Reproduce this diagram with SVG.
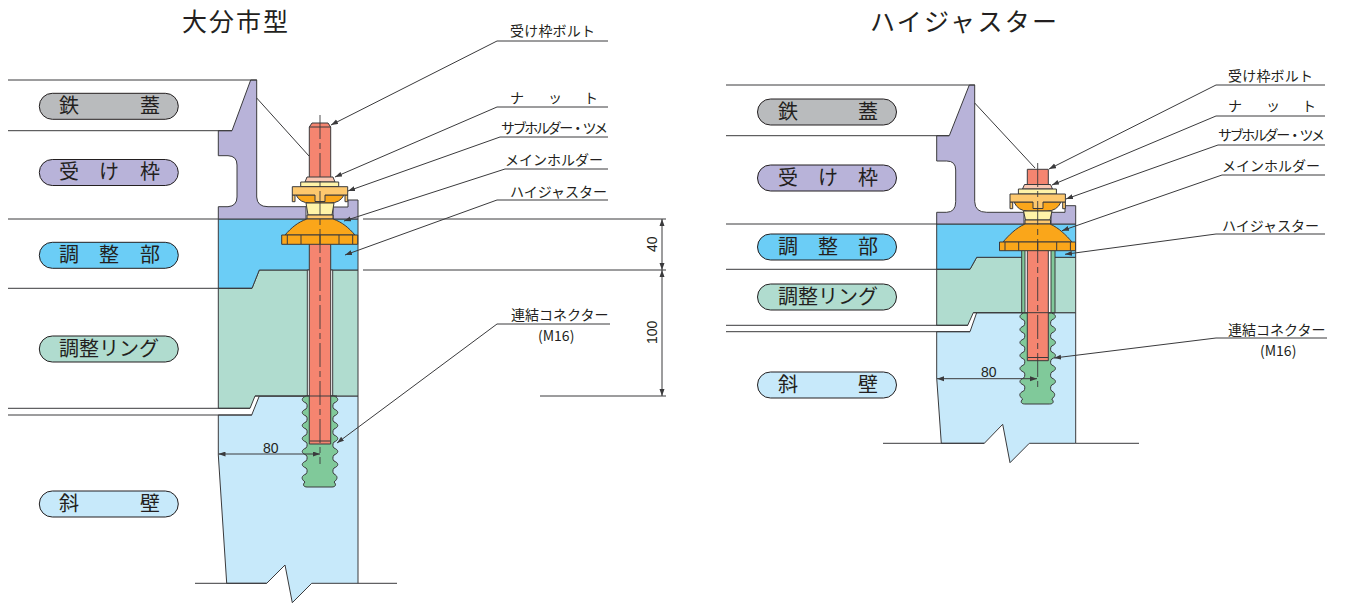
<svg xmlns="http://www.w3.org/2000/svg" xmlns:xlink="http://www.w3.org/1999/xlink" width="1345" height="603" viewBox="0 0 1345 603">
<style>
text{font-family:"Noto Sans CJK JP","Liberation Sans",sans-serif;fill:#231f20}
.title{font-size:25px}
.pl{font-size:20px}
.ld{font-size:14px}
.dim{font-family:"Liberation Sans",Arial,sans-serif;font-size:14px}
.s{stroke:#3a3a3c;stroke-width:1;stroke-linejoin:round}
.l{stroke:#3a3a3c;stroke-width:1;fill:none}
.a{marker-end:url(#arr)}
.d{marker-start:url(#arrs);marker-end:url(#arr)}
.c{stroke:#3a3a3c;stroke-width:.9;fill:none;stroke-dasharray:24 4 6 4}
.pill{stroke:#231f20;stroke-width:1}
.frame{fill:#b8b3d9}.blue{fill:#6bcdf6}.ring{fill:#b0dccf}.wall{fill:#c7e9fa}.red{fill:#f58570}.grn{fill:#80c99a}.org{fill:#faa61a}.lor{fill:#fdc86e}.yel{fill:#fff3a8}.pnk{fill:#f9c8b3}.gry{fill:#b9bbbd}
</style>
<defs>
<marker id="arr" markerWidth="8" markerHeight="6" refX="7" refY="2.5" orient="auto" markerUnits="userSpaceOnUse"><path d="M0 0L7 2.5L0 5Z" fill="#3a3a3c"/></marker>
<marker id="arrs" markerWidth="8" markerHeight="6" refX="0" refY="2.5" orient="auto" markerUnits="userSpaceOnUse"><path d="M7 0L0 2.5L7 5Z" fill="#3a3a3c"/></marker>
<rect id="p" x="0" y="0" width="139" height="26" rx="13"/>
<path id="conn" d="M306 396c-5 2 -5 5 0 7c1.5 1 1.5 4.5 0 6c-5 2 -5 5 0 7c1.5 1 1.5 4.5 0 6c-5 2 -5 5 0 7c1.5 1 1.5 4.5 0 6c-5 2 -5 5 0 7c1.5 1 1.5 4.5 0 6c-5 2 -5 5 0 7c1.5 1 1.5 4.5 0 6c-5 2 -5 5 0 7c1.5 1 1.5 4.5 0 6c-5 2 -5 5 -1 8c-3 3 -1 5 2 5H332c3 0 5 -2 2 -5c4 -3 4 -6 0 -8c-1.5 -1 -1.5 -4.5 0 -6c5 -2 5 -5 0 -7c-1.5 -1 -1.5 -4.5 0 -6c5 -2 5 -5 0 -7c-1.5 -1 -1.5 -4.5 0 -6c5 -2 5 -5 0 -7c-1.5 -1 -1.5 -4.5 0 -6c5 -2 5 -5 0 -7c-1.5 -1 -1.5 -4.5 0 -6c5 -2 5 -5 0 -7c-1.5 -1 -1.5 -4.5 0 -6c5 -2 5 -5 0 -7Z"/>
</defs>

<g id="title-left"><text class="title" x="182" y="31" textLength="106">大分市型</text></g>
<g id="title-right"><text class="title" x="870" y="31" textLength="187">ハイジャスター</text></g>

<g id="left-section">
<path class="s wall" d="M218.3 415H251.7L259.3 396H358V583.3H311.7L292.3 602.7L285 565L266.7 583.3H226.7L218.3 455Z"/>
<path class="s ring" d="M218.3 288.3H252L259.3 270H358V396H255L250 408.3H218.3Z"/>
<path class="s blue" d="M218.3 219H358V270H259.3L252 288.3H218.3Z"/>
<path class="s frame" d="M250.7 80H256.7V197Q257 206.7 268 206.7H306V219H218.3V206.7H228Q237 206 237 197V165Q237 156 228 155.7H218.3V130.7H232Z"/>
<path class="s frame" d="M333 219V207H348V200H358V219Z"/>
<rect x="307.3" y="270" width="25.4" height="126" fill="#fff" class="s"/>
<use href="#conn" class="s grn"/>
<path class="s red" d="M309.3 127L312 123H328L330.7 127V444H309.3Z"/>
<path class="l" d="M309.3 127H330.7M310 441H330"/>
<path class="l" stroke-width="1.6" d="M255 396H337"/>
</g>

<g id="left-holder">
<path class="s pnk" d="M305 182L307 177H333L335 182Z"/>
<rect class="s yel" x="300.7" y="182" width="38" height="4.7"/>
<path class="s org" d="M296 195Q300 203 310 203H330Q340 203 344 195Z"/>
<path class="s lor" d="M292.3 195H295V201.7H292.3ZM345 195H347.7V201.7H345Z"/>
<path class="s lor" d="M292.3 186.7H347.7V195H325V201.5H315V195H292.3Z"/>
<path class="s yel" d="M306 203H334L332 215H308Z"/>
<rect class="s lor" x="307" y="215" width="26" height="4"/>
<path class="s org" d="M285 235C291 228 298 222 307 219H333C342 222 349 228 355 235Z"/>
<rect class="s org" x="281.7" y="235" width="76" height="9.3"/>
<path class="l" d="M287.3 235V244M301 235V244M320 235V244M339 235V244M352.7 235V244"/>
</g>

<g id="right-section">
<path class="s wall" d="M936.7 331.7H970L976.7 312.7H1075.7V443.3H1029.3L1010 462.7L1002.7 424.3L984.3 443.3H941.3L936.7 378Z"/>
<path class="s ring" d="M936.7 269.3H970L976.7 257.3H1075.7V312.7H973.3L967.7 325.3H936.7Z"/>
<path class="s blue" d="M936.7 224H1075.7V257.3H976.7L970 269.3H936.7Z"/>
<path class="s frame" d="M969.3 85H974.7V201.7Q975 212.3 986.7 212.3H1024V224H936.7V212.3H946.7Q955.7 212 955.7 201.7V170Q955.7 161 946.7 161H936.7V135.7H949.3Z"/>
<path class="s frame" d="M1051 224V212.3H1065V205.7H1075.7V224Z"/>
<rect x="1021.7" y="250" width="33.3" height="63" class="s grn"/>
<rect x="1025" y="250" width="26" height="63" fill="#fff" class="s"/>
<use href="#conn" transform="translate(717.7 -83)" class="s grn"/>
<rect class="s red" x="1027.3" y="250" width="21" height="110.7"/>
<path class="l" d="M1028 357.5H1048"/>
<path class="l" stroke-width="1.6" d="M973.3 312.7H1055"/>
</g>

<g id="right-holder">
<rect class="s red" x="1027.3" y="169.3" width="21" height="15.7" stroke-width="1.6"/>
<path class="s pnk" d="M1022.5 189L1024.5 184.5H1050.5L1052.5 189Z"/>
<rect class="s yel" x="1018.4" y="189" width="38" height="5"/>
<path class="s org" d="M1014 202Q1018 211 1028 211H1047Q1057 211 1061 202Z"/>
<path class="s lor" d="M1010 202H1012.7V208.7H1010ZM1062.7 202H1065.4V208.7H1062.7Z"/>
<path class="s lor" d="M1010 194H1065.4V202H1043V208.5H1033V202H1010Z"/>
<path class="s yel" d="M1023.5 211H1052L1050 220H1025.5Z"/>
<rect class="s lor" x="1025" y="220" width="25.5" height="4"/>
<path class="s org" d="M1003 242C1009 235 1016 228 1025 224H1050C1059 228 1066 235 1072 242Z"/>
<rect class="s org" x="999.5" y="242" width="76" height="8.7"/>
<path class="l" d="M1005 242V250.7M1018.7 242V250.7M1037.7 242V250.7M1056.7 242V250.7M1070.4 242V250.7"/>
</g>

<g id="connectors">
<path class="l" d="M8 80H257M8 130.7H232M8 219H218M8 288.3H252M8 408.3H250M8 415H252"/>
<path class="l" d="M363 219H666M363 270H666M540 396H666"/>
<path class="l" d="M195 583.3H266.7M358 583.3H397"/>
<path class="l" d="M726 85H975M726 135.7H949M726 224H937M726 269.3H970M726 325.3H968M726 331.7H970"/>
<path class="l" d="M883 443.3H984.3M1075.7 443.3H1139"/>
<path class="l" d="M256.7 98L309 156M974.7 103L1035 168"/>
<path class="c" d="M320 115V464"/>
<path class="c" d="M1037.7 163V388"/>
<path class="l a" d="M608 41H497L331 125"/>
<path class="l a" d="M608 107H497L335 177"/>
<path class="l a" d="M608 137H500L348 191"/>
<path class="l a" d="M608 169H505L344 221"/>
<path class="l a" d="M608 200H497L345 255"/>
<path class="l a" d="M610 324H497L337 443"/>
<path class="l a" d="M1325 85H1216L1049 169"/>
<path class="l a" d="M1325 116H1216L1052 185"/>
<path class="l a" d="M1325 145H1218L1066 199"/>
<path class="l a" d="M1325 175H1222L1062 230.7"/>
<path class="l a" d="M1325 234H1216L1065 254.3"/>
<path class="l a" d="M1327 338H1216L1054 358"/>
<path class="l d" d="M662 219V270"/>
<path class="l d" d="M662 270V396"/>
<path class="l d" d="M218.5 454H320"/>
<path class="l d" d="M937 378.7H1037"/>
</g>

<g id="label-tetsugai-l"><use href="#p" x="39.3" y="93.3" class="pill gry"/><text class="pl" x="59 140" y="113">鉄蓋</text></g>
<g id="label-ukewaku-l"><use href="#p" x="39.3" y="159.5" class="pill frame"/><text class="pl" x="59 99 140" y="179">受け枠</text></g>
<g id="label-chosei-l"><use href="#p" x="39.3" y="242.3" class="pill blue"/><text class="pl" x="59 99 140" y="262">調整部</text></g>
<g id="label-ring-l"><use href="#p" x="39.3" y="336" class="pill ring"/><text class="pl" x="59" y="356">調整リング</text></g>
<g id="label-shaheki-l"><use href="#p" x="39.3" y="491" class="pill wall"/><text class="pl" x="59 140" y="511">斜壁</text></g>

<g id="label-tetsugai-r"><use href="#p" x="757.5" y="99" class="pill gry"/><text class="pl" x="778 858" y="119">鉄蓋</text></g>
<g id="label-ukewaku-r"><use href="#p" x="757.5" y="165" class="pill frame"/><text class="pl" x="778 818 858" y="185">受け枠</text></g>
<g id="label-chosei-r"><use href="#p" x="757.5" y="234" class="pill blue"/><text class="pl" x="778 818 858" y="254">調整部</text></g>
<g id="label-ring-r"><use href="#p" x="757.5" y="284" class="pill ring"/><text class="pl" x="778" y="304">調整リング</text></g>
<g id="label-shaheki-r"><use href="#p" x="757.5" y="372" class="pill wall"/><text class="pl" x="778 858" y="392">斜壁</text></g>

<g id="leader-labels">
<text class="ld" x="510" y="36" textLength="85">受け枠ボルト</text>
<text class="ld" x="510 548 584" y="103">ナット</text>
<text class="ld" x="501" y="133" textLength="107">サブホルダー・ツメ</text>
<text class="ld" x="505" y="165">メインホルダー</text>
<text class="ld" x="510" y="197">ハイジャスター</text>
<text class="ld" x="511" y="320">連結コネクター</text>
<text class="ld" x="538" y="341">(M16)</text>
<text class="ld" x="1228" y="81" textLength="85">受け枠ボルト</text>
<text class="ld" x="1228 1266 1302" y="111">ナット</text>
<text class="ld" x="1218" y="140" textLength="107">サブホルダー・ツメ</text>
<text class="ld" x="1222" y="171">メインホルダー</text>
<text class="ld" x="1222" y="231">ハイジャスター</text>
<text class="ld" x="1228" y="335">連結コネクター</text>
<text class="ld" x="1260" y="356">(M16)</text>
<text class="dim" x="263" y="453">80</text>
<text class="dim" x="981" y="377">80</text>
<text class="dim" transform="translate(657 252) rotate(-90)">40</text>
<text class="dim" transform="translate(657 344) rotate(-90)">100</text>
</g>
</svg>
